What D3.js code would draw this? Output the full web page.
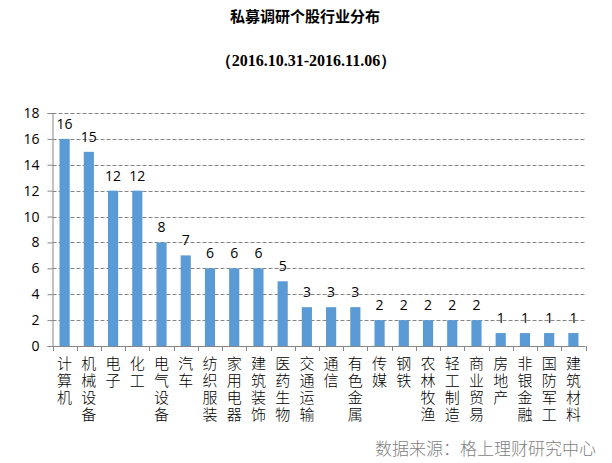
<!DOCTYPE html>
<html>
<head>
<meta charset="utf-8">
<script src="https://cdn.jsdelivr.net/npm/d3@7"></script>
<style>
  body { margin: 0; background: #fff; }
</style>
</head>
<body>
<div id="chart"></div>
<script>
const categories = ["计算机", "机械设备", "电子", "化工", "电气设备", "汽车", "纺织服装", "家用电器", "建筑装饰", "医药生物",
  "交通运输", "通信", "有色金属", "传媒", "钢铁", "农林牧渔", "轻工制造", "商业贸易", "房地产", "非银金融", "国防军工", "建筑材料"];
const counts = [16, 15, 12, 12, 8, 7, 6, 6, 6, 5, 3, 3, 3, 2, 2, 2, 2, 2, 1, 1, 1, 1];
const yTicks = [0, 2, 4, 6, 8, 10, 12, 14, 16, 18];
const title = "私募调研个股行业分布";
const subtitle = "（2016.10.31-2016.11.06）";
const source = "数据来源：格上理财研究中心";

const width = 612, height = 463;
const plotLeft = 52.5, plotRight = 585.5, plotTop = 113, plotBottom = 346;

const svg = d3.select("#chart").append("svg")
    .attr("width", width)
    .attr("height", height);

const x = d3.scaleBand()
    .domain(categories)
    .range([plotLeft, plotRight])
    .paddingInner(0.58)
    .paddingOuter(0.29);

const y = d3.scaleLinear()
    .domain([0, 18])
    .range([plotBottom, plotTop]);

// titles
svg.append("text")
    .attr("x", 305).attr("y", 22)
    .attr("text-anchor", "middle")
    .attr("font-family", "'Noto Sans CJK SC', serif")
    .attr("font-weight", "bold")
    .attr("font-size", 15)
    .text(title);

svg.append("text")
    .attr("x", 306).attr("y", 66)
    .attr("text-anchor", "middle")
    .attr("font-family", "'Liberation Serif', 'Times New Roman', serif")
    .attr("font-weight", "bold")
    .attr("font-size", 16)
    .text(subtitle);

// gridlines
svg.append("g")
    .selectAll("line")
    .data(yTicks.filter(d => d > 0))
    .join("line")
    .attr("x1", plotLeft).attr("x2", plotRight)
    .attr("y1", d => Math.round(y(d)) + 0.5)
    .attr("y2", d => Math.round(y(d)) + 0.5)
    .attr("stroke", "#868686")
    .attr("stroke-dasharray", "4,2");

// y axis
const yAxis = svg.append("g")
    .attr("transform", `translate(${plotLeft},0)`)
    .call(d3.axisLeft(y).tickValues(yTicks).tickSize(5).tickPadding(8));
yAxis.select(".domain").attr("stroke", "#868686");
yAxis.selectAll(".tick line").attr("stroke", "#868686");
yAxis.selectAll(".tick text")
    .attr("font-family", "'Open Sans', 'DejaVu Sans', sans-serif")
    .attr("font-size", 14)
    .attr("fill", "#000");

// x axis line + ticks between categories
svg.append("line")
    .attr("x1", plotLeft).attr("x2", plotRight)
    .attr("y1", plotBottom + 0.5).attr("y2", plotBottom + 0.5)
    .attr("stroke", "#868686");

const step = x.step();
svg.append("g")
    .selectAll("line")
    .data(d3.range(categories.length + 1))
    .join("line")
    .attr("x1", i => Math.round(plotLeft + i * step) + 0.5)
    .attr("x2", i => Math.round(plotLeft + i * step) + 0.5)
    .attr("y1", plotBottom).attr("y2", plotBottom + 5)
    .attr("stroke", "#868686");

// bars
svg.append("g")
    .selectAll("rect")
    .data(categories)
    .join("rect")
    .attr("x", (d) => x(d))
    .attr("width", x.bandwidth())
    .attr("y", (d, i) => y(counts[i]))
    .attr("height", (d, i) => y(0) - y(counts[i]))
    .attr("fill", "#5b9bd5");

// value labels
svg.append("g")
    .selectAll("text")
    .data(categories)
    .join("text")
    .attr("x", d => x(d) + x.bandwidth() / 2)
    .attr("y", (d, i) => y(counts[i]) - 10)
    .attr("text-anchor", "middle")
    .attr("font-family", "'Open Sans', 'DejaVu Sans', sans-serif")
    .attr("font-size", 14)
    .attr("fill", "#000")
    .text((d, i) => counts[i]);

// vertical category labels
svg.append("g")
    .selectAll("text")
    .data(categories)
    .join("text")
    .attr("x", d => x(d) + x.bandwidth() / 2)
    .attr("y", 356)
    .attr("writing-mode", "vertical-rl")
    .attr("letter-spacing", 2)
    .attr("font-family", "'Noto Sans CJK SC', sans-serif")
    .attr("font-weight", 300)
    .attr("font-size", 15)
    .attr("fill", "#000")
    .text(d => d);

// source
svg.append("text")
    .attr("x", 596).attr("y", 455)
    .attr("text-anchor", "end")
    .attr("font-family", "'Noto Sans CJK SC', sans-serif")
    .attr("font-weight", 300)
    .attr("font-size", 17)
    .attr("fill", "#7f7f7f")
    .text(source);
</script>
</body>
</html>
